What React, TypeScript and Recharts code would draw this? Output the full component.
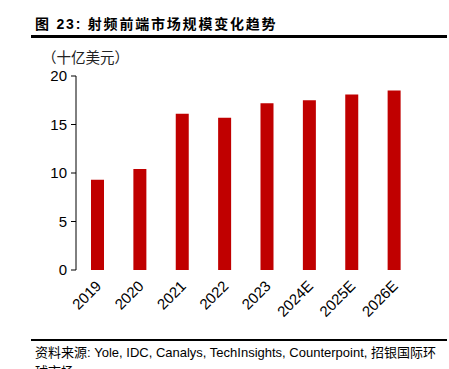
import { BarChart, Bar, XAxis, YAxis } from "recharts";

const years = ["2019", "2020", "2021", "2022", "2023", "2024E", "2025E", "2026E"];
const marketSize = [9.3, 10.4, 16.1, 15.7, 17.2, 17.5, 18.1, 18.5];
const yTicks = [0, 5, 10, 15, 20];
const boundaryTicks = [0, 1, 2, 3, 4, 5, 6, 7, 8];

const data = years.map((year, i) => ({ year, value: marketSize[i] }));

const FONT = '"Liberation Sans", Arial, "Noto Sans CJK SC", sans-serif';

function YearTick(props: any) {
  const { x, y, payload } = props;
  const ax = x + 5;
  const ay = y + 9;
  return (
    <text
      x={ax}
      y={ay}
      transform={`rotate(-45, ${ax}, ${ay})`}
      textAnchor="end"
      fontSize={15}
      fontFamily={FONT}
      fill="#000"
    >
      {payload.value}
    </text>
  );
}

export default function App() {
  return (
    <div
      style={{
        position: "absolute",
        top: 0,
        left: 0,
        width: 449,
        height: 369,
        overflow: "hidden",
        background: "#fff",
        fontFamily: FONT,
      }}
    >
      <div
        style={{
          position: "absolute",
          left: 35,
          top: 13,
          fontSize: 14,
          fontWeight: "bold",
          letterSpacing: 1.8,
          whiteSpace: "nowrap",
        }}
      >
        图 23: 射频前端市场规模变化趋势
      </div>
      <div
        style={{
          position: "absolute",
          left: 31,
          top: 35,
          width: 416,
          height: 2.5,
          background: "#000",
        }}
      />
      <div
        style={{
          position: "absolute",
          left: 42,
          top: 46,
          fontSize: 14.5,
          color: "#222",
          whiteSpace: "nowrap",
        }}
      >
        （十亿美元）
      </div>

      <div style={{ position: "absolute", left: 0, top: 0 }}>
        <BarChart
          width={449}
          height={369}
          data={data}
          margin={{ top: 76, right: 34, bottom: 39, left: 0 }}
          barCategoryGap="34%"
        >
          <XAxis
            xAxisId="bounds"
            type="number"
            domain={[0, 8]}
            ticks={boundaryTicks}
            tick={false}
            height={0}
            axisLine={{ stroke: "#000", strokeWidth: 1 }}
            tickLine={{ stroke: "#000", strokeWidth: 1 }}
            tickSize={5}
          />
          <XAxis
            dataKey="year"
            height={60}
            axisLine={false}
            tickLine={false}
            interval={0}
            tick={<YearTick />}
          />
          <YAxis
            domain={[0, 20]}
            ticks={yTicks}
            width={76}
            axisLine={{ stroke: "#000", strokeWidth: 1 }}
            tickLine={{ stroke: "#000", strokeWidth: 1 }}
            tickSize={5}
            tickMargin={4}
            tick={{ fontSize: 15, fill: "#000", fontFamily: FONT }}
          />
          <Bar dataKey="value" fill="#C00000" barSize={13} isAnimationActive={false} />
        </BarChart>
      </div>

      <div
        style={{
          position: "absolute",
          left: 31,
          top: 339,
          width: 416,
          height: 2,
          background: "#000",
        }}
      />
      <div
        style={{
          position: "absolute",
          left: 35,
          top: 343,
          width: 406,
          fontSize: 13,
          lineHeight: "19px",
          color: "#000",
        }}
      >
        资料来源: Yole, IDC, Canalys, TechInsights, Counterpoint, 招银国际环球市场
      </div>
    </div>
  );
}
